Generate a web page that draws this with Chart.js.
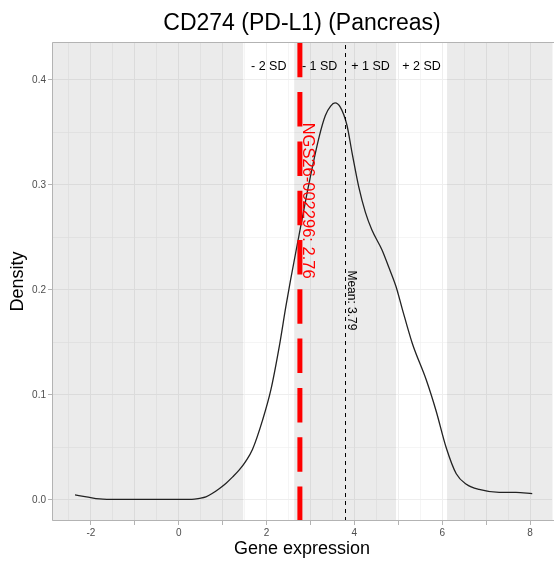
<!DOCTYPE html>
<html>
<head>
<meta charset="utf-8">
<script src="https://cdn.jsdelivr.net/npm/chart.js@4.4.1/dist/chart.umd.min.js"></script>
<style>
  html, body { margin: 0; padding: 0; background: #ffffff; }
  #wrap { width: 554px; height: 561px; overflow: hidden; }
</style>
</head>
<body>
<div id="wrap"><canvas id="c" width="554" height="561"></canvas></div>
<script>
// ---- data ----
const titleText = 'CD274 (PD-L1) (Pancreas)';
const xTitle = 'Gene expression';
const yTitle = 'Density';
const expr = [-2.36, -2.1, -1.8, -1.4, -1.0, 0.0, 0.3, 0.47, 0.62, 0.77, 0.93, 1.08, 1.23, 1.38, 1.53, 1.68, 1.91, 2.10, 2.29, 2.44, 2.55, 2.74, 2.97, 3.20, 3.34, 3.46, 3.56, 3.68, 3.83, 3.95, 4.10, 4.25, 4.40, 4.63, 4.78, 4.95, 5.09, 5.32, 5.64, 5.86, 6.09, 6.32, 6.55, 6.84, 7.3, 7.68, 8.05];
const density = [0.0048, 0.003, 0.001, 0.0005, 0.0005, 0.0005, 0.0006, 0.0016, 0.003, 0.0064, 0.011, 0.016, 0.022, 0.0286, 0.037, 0.048, 0.076, 0.105, 0.146, 0.184, 0.21, 0.252, 0.302, 0.346, 0.366, 0.375, 0.378, 0.374, 0.357, 0.330, 0.298, 0.274, 0.257, 0.238, 0.222, 0.203, 0.182, 0.149, 0.114, 0.085, 0.05, 0.025, 0.015, 0.010, 0.0072, 0.0072, 0.006];
const meanValue = 3.79;
const sdValue = 1.16;
const sampleName = 'NGS26-002296';
const sampleValue = 2.76;
const sdLabels = ['- 2 SD', '- 1 SD', '+ 1 SD', '+ 2 SD'];
const xTickLabels = [-2, 0, 2, 4, 6, 8];
const yTickLabels = [0.0, 0.1, 0.2, 0.3, 0.4];
const xGridValues = [-2.5, -2, -1.5, -1, -0.5, 0, 0.5, 1, 1.5, 2, 2.5, 3, 3.5, 4, 4.5, 5, 5.5, 6, 6.5, 7, 7.5, 8, 8.5];
const yGridValues = [0, 0.05, 0.1, 0.15, 0.2, 0.25, 0.3, 0.35, 0.4];

const FONT = "'Liberation Sans', Arial, Helvetica, sans-serif";
Chart.defaults.font.family = FONT;

const isInt = v => Math.abs(v - Math.round(v)) < 1e-9;
const isYMajor = v => Math.abs(v * 10 - Math.round(v * 10)) < 1e-6;

const annot = {
  id: 'annot',
  beforeDatasetsDraw(chart) {
    const { ctx, chartArea: a, scales: { x } } = chart;
    const p = v => x.getPixelForValue(v);
    const h = a.bottom - a.top;
    ctx.save();
    ctx.beginPath(); ctx.rect(a.left, a.top, a.right - a.left, h); ctx.clip();
    ctx.fillStyle = 'rgba(0,0,0,0.08)';
    const l2 = p(meanValue - 2 * sdValue), l1 = p(meanValue - sdValue);
    const r1 = p(meanValue + sdValue), r2 = p(meanValue + 2 * sdValue);
    ctx.fillRect(a.left, a.top, l2 - a.left, h);
    ctx.fillRect(l1, a.top, r1 - l1, h);
    ctx.fillRect(r2, a.top, a.right - r2, h);
    ctx.restore();
  },
  afterDatasetsDraw(chart) {
    const { ctx, chartArea: a, scales: { x, y } } = chart;
    const p = v => x.getPixelForValue(v);
    ctx.save();
    ctx.beginPath(); ctx.rect(a.left, a.top, a.right - a.left, a.bottom - a.top); ctx.clip();
    // mean line
    const mx = p(meanValue);
    ctx.strokeStyle = '#000000';
    ctx.lineWidth = 1;
    ctx.setLineDash([4, 4]);
    ctx.beginPath(); ctx.moveTo(Math.round(mx) + 0.5, a.bottom); ctx.lineTo(Math.round(mx) + 0.5, a.top); ctx.stroke();
    // sample line
    const sx = p(sampleValue);
    ctx.strokeStyle = '#ff0000';
    ctx.lineWidth = 5;
    ctx.setLineDash([34.5, 14.8]);
    ctx.beginPath(); ctx.moveTo(sx, a.bottom); ctx.lineTo(sx, a.top); ctx.stroke();
    ctx.setLineDash([]);
    // SD labels
    const bounds = [-2, -1, 0, 1, 2].map(k => p(meanValue + k * sdValue));
    ctx.fillStyle = '#000000';
    ctx.font = '12.5px ' + FONT;
    ctx.textAlign = 'center';
    ctx.textBaseline = 'middle';
    sdLabels.forEach((t, i) => {
      ctx.fillText(t, (bounds[i] + bounds[i + 1]) / 2, a.top + 24.5);
    });
    // sample text (rotated)
    ctx.save();
    ctx.translate(sx + 8, y.getPixelForValue(0.285));
    ctx.rotate(Math.PI / 2);
    ctx.fillStyle = '#ff0000';
    ctx.font = '16.5px ' + FONT;
    ctx.fillText(sampleName + ': ' + sampleValue.toFixed(2), 0, 0);
    ctx.restore();
    // mean text (rotated)
    ctx.save();
    ctx.translate(mx + 6, y.getPixelForValue(0.19));
    ctx.rotate(Math.PI / 2);
    ctx.fillStyle = '#000000';
    ctx.font = '12px ' + FONT;
    ctx.fillText('Mean: ' + meanValue.toFixed(2), 0, 0);
    ctx.restore();
    ctx.restore();
  },
  afterDraw(chart) {
    const { ctx, chartArea: a } = chart;
    ctx.save();
    ctx.strokeStyle = '#b3b3b3';
    ctx.lineWidth = 1;
    ctx.beginPath();
    ctx.moveTo(a.right + 2, a.top + 0.5);
    ctx.lineTo(a.left + 0.5, a.top + 0.5);
    ctx.lineTo(a.left + 0.5, a.bottom - 0.5);
    ctx.lineTo(a.right + 2, a.bottom - 0.5);
    ctx.stroke();
    ctx.restore();
  }
};

new Chart(document.getElementById('c'), {
  type: 'line',
  data: {
    datasets: [{
      data: expr.map((v, i) => ({ x: v, y: density[i] })),
      borderColor: '#222222',
      borderWidth: 1.3,
      pointRadius: 0,
      fill: false,
      cubicInterpolationMode: 'monotone'
    }]
  },
  options: {
    responsive: false,
    animation: false,
    devicePixelRatio: 1,
    layout: { padding: { left: 0, top: 0, bottom: 0, right: -2 } },
    plugins: {
      legend: { display: false },
      tooltip: { enabled: false },
      title: {
        display: true,
        text: titleText,
        fullSize: false,
        color: '#000000',
        font: { size: 23, weight: 'normal', family: FONT },
        padding: { top: 9.8, bottom: 4.6 }
      }
    },
    scales: {
      x: {
        type: 'linear',
        min: -2.884,
        max: 8.50,
        afterBuildTicks: s => { s.ticks = xGridValues.map(v => ({ value: v })); },
        afterFit: s => { s.height = 40; },
        ticks: {
          autoSkip: false,
          maxRotation: 0,
          color: '#4d4d4d',
          font: { size: 10 },
          padding: 2,
          callback: v => xTickLabels.includes(v) ? String(v) : ''
        },
        grid: {
          color: '#eeeeee',
          lineWidth: c => (c.tick && isInt(c.tick.value)) ? 1 : 0.6,
          tickColor: c => (c.tick && isInt(c.tick.value)) ? '#b3b3b3' : 'rgba(0,0,0,0)',
          tickLength: 4,
          tickWidth: 1
        },
        border: { display: false },
        title: {
          display: true, text: xTitle, color: '#000000',
          font: { size: 18, family: FONT }, padding: { top: 0, bottom: 1 }
        }
      },
      y: {
        type: 'linear',
        min: -0.02,
        max: 0.436,
        afterBuildTicks: s => { s.ticks = yGridValues.map(v => ({ value: v })); },
        afterFit: s => { s.width = 52; },
        ticks: {
          autoSkip: false,
          color: '#4d4d4d',
          font: { size: 10 },
          padding: 2,
          callback: v => yTickLabels.some(t => Math.abs(t - v) < 1e-9) ? v.toFixed(1) : ''
        },
        grid: {
          color: '#eeeeee',
          lineWidth: c => (c.tick && isYMajor(c.tick.value)) ? 1 : 0.6,
          tickColor: c => (c.tick && isYMajor(c.tick.value)) ? '#b3b3b3' : 'rgba(0,0,0,0)',
          tickLength: 4,
          tickWidth: 1
        },
        border: { display: false },
        title: {
          display: true, text: yTitle, color: '#000000',
          font: { size: 18, family: FONT }, padding: { top: 7, bottom: 0 }
        }
      }
    }
  },
  plugins: [annot]
});
</script>
</body>
</html>
